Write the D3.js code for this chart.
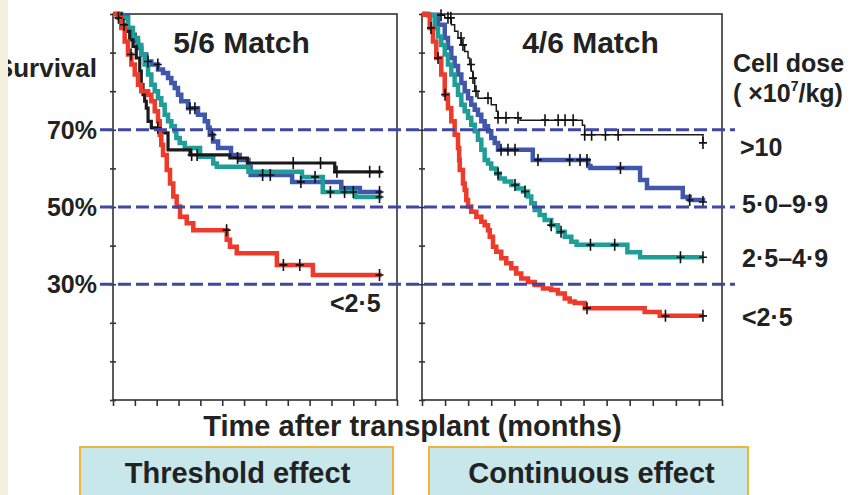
<!DOCTYPE html>
<html><head><meta charset="utf-8">
<script src="https://cdn.jsdelivr.net/npm/d3@7"></script>
<style>
html,body{margin:0;padding:0;background:#fff;}
svg{display:block;font-family:"Liberation Sans",Arial,sans-serif;font-weight:bold;}
</style></head>
<body><svg id="c" width="854" height="495"></svg>
<script>
// ---------------- DATA ----------------
const xTicks = d3.range(0, 27, 2);          // time ticks (months)
const yTicks = d3.range(0, 101, 10);        // survival ticks (%)
const refLines = [70, 50, 30];
const refLabels = ["70%", "50%", "30%"];
const doseLabels = [">10", "5·0–9·9", "2·5–4·9", "<2·5"];
const panelTitles = ["5/6 Match", "4/6 Match"];
const effectLabels = ["Threshold effect", "Continuous effect"];

// 5/6 match
const m56_gt10_t   = [0, 0.76, 1.07, 1.53, 1.83, 2.13, 2.45, 2.59, 2.75, 2.9, 3.05, 3.21, 3.51, 4.3, 5.04, 7.05, 10.7, 12.3, 20.3, 24.6];
const m56_gt10_s   = [100, 97.2, 95.5, 93.3, 91.6, 88.6, 85.2, 81.7, 79.1, 77.4, 75.6, 72.2, 70.5, 69.2, 64.8, 63.5, 62.7, 61.4, 59.1, 59.1];
const m56_gt10_c   = [1.0, 4.1, 7.2, 7.7, 11.4, 16.5, 19.0, 20.5, 23.5, 24.4];
const m56_5to10_t  = [0, 0.7, 1.37, 1.68, 1.99, 2.29, 2.59, 3.05, 3.51, 4.12, 4.58, 5.04, 5.34, 5.65, 5.95, 6.25, 6.87, 7.78, 8.4, 8.7, 8.86, 9.16, 9.62, 10.8, 11.6, 12.4, 12.6, 16.4, 20.9, 22.6, 24.6];
const m56_5to10_s  = [100, 99.7, 96.4, 94.6, 92.9, 91.2, 89.5, 87.7, 86.9, 85.6, 84.7, 83.4, 82.1, 80.8, 79.1, 77.4, 75.6, 73.9, 72.2, 70.5, 68.7, 67.0, 65.3, 63.5, 62.2, 60.4, 58.3, 56.5, 54.9, 53.9, 53.9];
const m56_5to10_c  = [3.2, 4.1, 7.05, 7.5, 9.1, 13.7, 14.4, 17.2, 24.4];
const m56_25to5_t  = [0, 0.76, 1.37, 1.83, 2.29, 2.59, 2.9, 3.21, 3.51, 3.82, 4.12, 4.42, 4.73, 5.04, 5.34, 5.65, 5.8, 6.11, 6.57, 7.97, 9.18, 9.5, 12.4, 17.3, 19.2, 22.2, 24.6];
const m56_25to5_s  = [100, 99.0, 96.4, 93.8, 92.0, 89.5, 86.9, 84.3, 81.7, 80.0, 78.2, 76.5, 73.9, 72.2, 70.9, 69.6, 67.9, 66.6, 65.3, 63.0, 61.3, 60.4, 59.1, 57.8, 53.9, 52.6, 52.6];
const m56_25to5_c  = [18.5, 19.9, 21.2, 22.0, 24.4];
const m56_lt25_t   = [0, 0.46, 0.76, 1.07, 1.37, 1.68, 1.99, 2.29, 2.59, 3.21, 3.51, 3.82, 4.12, 4.28, 4.42, 4.58, 4.92, 5.22, 5.52, 5.83, 6.14, 6.75, 7.35, 10.41, 10.71, 11.33, 15.0, 18.3, 24.6];
const m56_lt25_s   = [100, 99.0, 96.4, 92.9, 89.5, 86.9, 84.3, 81.7, 80.0, 79.1, 77.4, 74.8, 72.2, 68.7, 66.1, 63.5, 59.6, 56.1, 52.7, 50.1, 47.5, 45.8, 44.0, 41.5, 39.7, 38.0, 35.0, 32.4, 32.4];
const m56_lt25_c   = [0.5, 1.65, 10.4, 15.6, 17.1, 24.4];

// 4/6 match
const m46_gt10_t   = [0, 1.39, 1.97, 2.54, 2.83, 3.12, 3.41, 3.7, 3.99, 4.13, 4.27, 4.42, 4.57, 4.85, 6.0, 6.44, 6.59, 8.5, 13.9, 14.1, 24.35];
const m46_gt10_s   = [100, 99.7, 99.0, 97.2, 95.5, 93.8, 92.0, 90.3, 88.6, 86.9, 85.2, 83.4, 80.0, 78.2, 76.5, 74.8, 73.1, 72.5, 71.2, 68.7, 66.6];
const m46_gt10_c   = [1.65, 2.25, 2.5, 3.38, 3.55, 4.25, 4.42, 4.68, 5.72, 6.59, 7.28, 8.32, 10.66, 11.8, 12.4, 13.1, 14.1, 14.7, 15.9, 17.0, 24.35];
const m46_5to10_t  = [0, 0.52, 1.39, 1.97, 2.25, 2.54, 2.83, 3.12, 3.41, 3.7, 3.99, 4.27, 4.57, 4.85, 5.14, 5.43, 5.72, 6.0, 6.3, 6.59, 9.6, 14.4, 14.6, 18.9, 19.5, 22.6, 23.2, 24.35];
const m46_5to10_s  = [100, 99.8, 97.2, 93.8, 91.2, 88.6, 86.5, 84.3, 82.1, 80.0, 78.2, 76.5, 75.2, 73.9, 72.2, 70.9, 69.6, 67.9, 66.6, 64.8, 62.2, 60.6, 60.1, 57.0, 54.9, 52.6, 51.8, 51.3];
const m46_5to10_c  = [6.85, 7.45, 8.06, 10.05, 12.8, 13.7, 14.3, 17.2, 23.2, 24.35];
const m46_25to5_t  = [0, 0.52, 1.1, 1.39, 1.67, 1.97, 2.25, 2.54, 2.83, 3.12, 3.41, 3.7, 3.99, 4.27, 4.57, 4.85, 5.14, 5.43, 5.72, 6.0, 6.44, 6.73, 7.17, 7.74, 8.32, 8.75, 9.19, 9.47, 9.77, 10.2, 10.63, 11.2, 11.78, 12.37, 12.94, 13.4, 17.8, 18.9, 24.35];
const m46_25to5_s  = [100, 99.7, 96.4, 94.2, 92.0, 89.5, 86.9, 84.3, 81.7, 79.1, 76.5, 74.8, 73.1, 71.3, 69.6, 67.4, 64.8, 62.2, 61.3, 60.0, 58.7, 57.4, 56.6, 55.7, 54.8, 54.0, 52.7, 51.0, 49.2, 47.9, 46.6, 45.3, 43.6, 42.3, 41.0, 40.2, 38.3, 37.0, 37.0];
const m46_25to5_c  = [6.59, 8.06, 8.93, 11.2, 12.05, 14.6, 16.7, 22.4, 24.35];
const m46_lt25_t   = [0, 0.23, 0.67, 0.95, 1.24, 1.67, 1.97, 2.25, 2.54, 2.83, 3.12, 3.22, 3.27, 3.55, 3.7, 3.84, 3.99, 4.27, 4.71, 5.14, 5.43, 5.72, 5.87, 6.15, 6.44, 6.87, 7.3, 7.74, 8.17, 8.6, 9.19, 9.77, 10.49, 11.2, 11.78, 12.37, 12.8, 13.23, 14.1, 19.3, 20.6, 24.35];
const m46_lt25_s   = [100, 99.8, 96.4, 92.9, 88.6, 84.3, 79.1, 75.6, 72.2, 68.7, 65.3, 62.2, 59.6, 56.1, 54.4, 51.8, 50.1, 48.8, 47.5, 46.2, 45.3, 44.0, 42.3, 39.7, 38.4, 36.7, 35.4, 34.1, 32.8, 31.5, 30.6, 29.8, 28.9, 28.5, 27.6, 26.3, 25.5, 25.1, 23.8, 22.8, 21.8, 21.8];
const m46_lt25_c   = [0.78, 1.39, 2.0, 14.3, 21.1, 24.35];

// ---------------- DRAW ----------------
const svg = d3.select("#c");
svg.append("rect").attr("x",0).attr("y",0).attr("width",854).attr("height",495).attr("fill","#fff");

const y = d3.scaleLinear().domain([0,100]).range([400,14]);
const xL = d3.scaleLinear().domain([0,26]).range([113,397]);
const xR = d3.scaleLinear().domain([0,26]).range([422,722]);

const COL = {black:"#1b1b1b", blue:"#4157aa", teal:"#1f9e98", red:"#ee3a2a"};
const AX = "#333";

function zip(t,s){return t.map((d,i)=>[d,s[i]]);}
function survAt(t,s,tt){let v=s[0];for(let i=0;i<t.length;i++){if(t[i]<=tt)v=s[i];}return v;}

function panel(x, series){
  svg.append("rect").attr("x",x.range()[0]).attr("y",y(100)).attr("width",x.range()[1]-x.range()[0])
    .attr("height",y(0)-y(100)).attr("fill","none").attr("stroke",AX).attr("stroke-width",1.6);
  const gx = svg.append("g").attr("transform",`translate(0,${y(0)})`)
    .call(d3.axisBottom(x).tickValues(xTicks).tickSize(6).tickFormat(""));
  gx.select(".domain").remove();
  gx.selectAll("line").attr("stroke",AX).attr("stroke-width",1.6);
  const gy = svg.append("g").attr("transform",`translate(${x.range()[0]},0)`)
    .call(d3.axisLeft(y).tickValues(yTicks).tickSize(3).tickFormat(""));
  gy.select(".domain").remove();
  gy.selectAll("line").attr("x2",-3).attr("x1",3).attr("stroke",AX).attr("stroke-width",1.6);

  const line = d3.line().x(d=>x(d[0])).y(d=>y(d[1])).curve(d3.curveStepAfter);
  series.forEach(sr=>{
    svg.append("path").datum(zip(sr.t,sr.s)).attr("d",line).attr("fill","none")
      .attr("stroke",sr.c).attr("stroke-width",sr.w).attr("stroke-linejoin","miter");
  });
  series.forEach(sr=>{
    sr.cens.forEach(tt=>{
      const cx=x(tt), cy=y(survAt(sr.t,sr.s,tt));
      svg.append("path").attr("d",`M${cx-4},${cy}H${cx+4}M${cx},${cy-6}V${cy+6}`)
        .attr("stroke","#111").attr("stroke-width",1.6).attr("fill","none");
    });
  });
}

panel(xL, [
  {t:m56_5to10_t, s:m56_5to10_s, cens:m56_5to10_c, c:COL.blue, w:4.5},
  {t:m56_25to5_t, s:m56_25to5_s, cens:m56_25to5_c, c:COL.teal, w:4.5},
  {t:m56_gt10_t,  s:m56_gt10_s,  cens:m56_gt10_c,  c:COL.black, w:3.2},
  {t:m56_lt25_t,  s:m56_lt25_s,  cens:m56_lt25_c,  c:COL.red, w:4.5}
]);
panel(xR, [
  {t:m46_gt10_t,  s:m46_gt10_s,  cens:m46_gt10_c,  c:COL.black, w:1.5},
  {t:m46_5to10_t, s:m46_5to10_s, cens:m46_5to10_c, c:COL.blue, w:4.5},
  {t:m46_25to5_t, s:m46_25to5_s, cens:m46_25to5_c, c:COL.teal, w:4.5},
  {t:m46_lt25_t,  s:m46_lt25_s,  cens:m46_lt25_c,  c:COL.red, w:4.5}
]);

refLines.forEach((v,i)=>{
  svg.append("line").attr("x1",100).attr("x2",735).attr("y1",y(v)).attr("y2",y(v))
    .attr("stroke","#3f47a4").attr("stroke-width",3).attr("stroke-dasharray","13,5");
  svg.append("text").attr("x",97).attr("y",y(v)+9).attr("text-anchor","end")
    .attr("font-size",25).attr("fill","#222").text(refLabels[i]);
});

const T = "#222";
svg.append("text").attr("x",97).attr("y",77).attr("text-anchor","end").attr("font-size",26).attr("fill",T).text("Survival");
// cream strip at the left edge (covers the start of "Survival" as in the original)
svg.append("rect").attr("x",0).attr("y",0).attr("width",8).attr("height",495).attr("fill","#f3f1dd");

svg.append("text").attr("x",241.5).attr("y",53).attr("text-anchor","middle").attr("font-size",30).attr("fill",T).text(panelTitles[0]);
svg.append("text").attr("x",590.5).attr("y",53).attr("text-anchor","middle").attr("font-size",30).attr("fill",T).text(panelTitles[1]);
svg.append("text").attr("x",733).attr("y",72).attr("font-size",25).attr("fill",T).text("Cell dose");
const u = svg.append("text").attr("x",733).attr("y",102).attr("font-size",25).attr("fill",T);
u.append("tspan").text("( ×10");
u.append("tspan").attr("font-size",14).attr("dy",-11).text("7");
u.append("tspan").attr("dy",11).text("/kg)");
const dosePos = [156, 213, 267, 326];
doseLabels.forEach((d,i)=>{
  svg.append("text").attr("x",i===0?740:742).attr("y",dosePos[i]).attr("font-size",25).attr("fill",T).text(d);
});
svg.append("text").attr("x",330).attr("y",312).attr("font-size",25).attr("fill",T).text(doseLabels[3]);
svg.append("text").attr("x",412.5).attr("y",436).attr("text-anchor","middle").attr("font-size",29).attr("fill",T).text("Time after transplant (months)");

const boxes = [[80,393],[429,748]];
boxes.forEach((b,i)=>{
  svg.append("rect").attr("x",b[0]).attr("y",447).attr("width",b[1]-b[0]).attr("height",60)
    .attr("fill","#c8e7eb").attr("stroke","#f2b33d").attr("stroke-width",2);
  svg.append("text").attr("x",(b[0]+b[1])/2 + (i===0?1:3)).attr("y",483).attr("text-anchor","middle")
    .attr("font-size",29).attr("fill",T).text(effectLabels[i]);
});
</script></body></html>
